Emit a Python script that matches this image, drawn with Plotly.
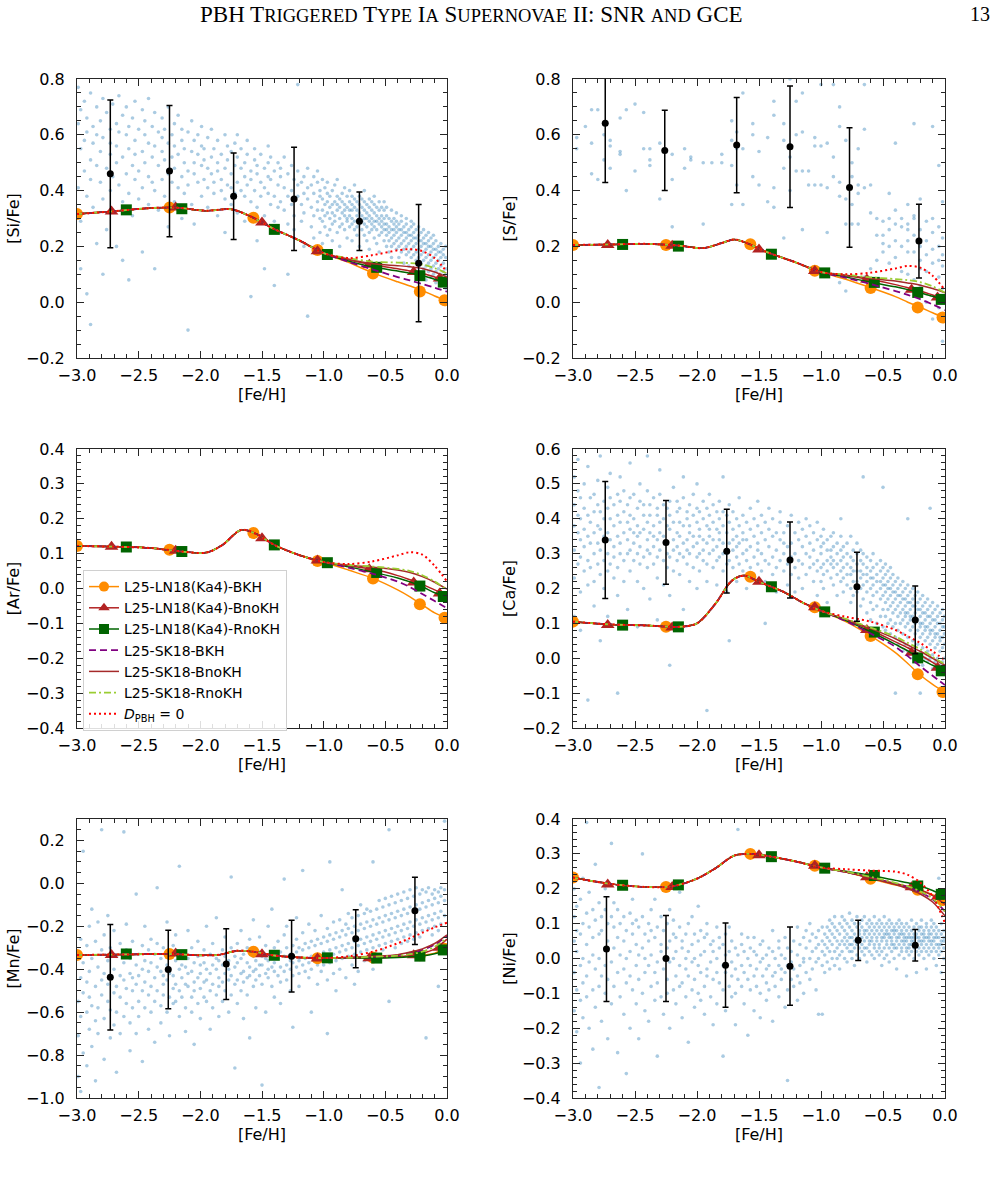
import plotly.graph_objects as go

W, H = 998, 1181

# ---------------- shared model definitions ----------------
MODEL_NAMES = ["L25-LN18(Ka4)-BKH", "L25-LN18(Ka4)-BnoKH", "L25-LN18(Ka4)-RnoKH",
               "L25-SK18-BKH", "L25-SK18-BnoKH", "L25-SK18-RnoKH",
               "<i>D</i><sub>PBH</sub> = 0"]
MODEL_COLORS = ["darkorange", "firebrick", "darkgreen", "purple", "brown", "yellowgreen", "red"]
MODEL_DASH = ["solid", "solid", "solid", "7px,4px", "solid", "7px,3px,2px,3px", "2px,3px"]
MODEL_WIDTH = [1.5, 1.5, 1.5, 1.8, 1.5, 1.8, 2.0]
MODEL_SYMBOL = ["circle", "triangle-up", "square", None, None, None, None]
MODEL_MSIZE = [12, 12, 11, 0, 0, 0, 0]

TAIL_X = [-1.0, -0.8, -0.6, -0.4, -0.3, -0.2, -0.1, 0.0]
MK_X = [[-3.0, -2.25, -1.57, -1.05, -0.6, -0.22, -0.02],
        [-2.72, -2.2, -1.5, -1.05, -0.63, -0.27, -0.06],
        [-2.6, -2.15, -1.4, -0.97, -0.57, -0.22, -0.03]]

# ---------------- [Si/Fe] ----------------
SI_BASE_X = [-3.0, -2.7, -2.45, -2.2, -1.95, -1.75, -1.6, -1.4, -1.2]
SI_BASE_Y = [0.316, 0.326, 0.336, 0.339, 0.328, 0.333, 0.309, 0.262, 0.222]
SI_TAILS = [[0.176, 0.143, 0.105, 0.073, 0.058, 0.042, 0.022, 0.005],
            [0.176, 0.152, 0.134, 0.120, 0.112, 0.104, 0.090, 0.076],
            [0.176, 0.148, 0.126, 0.112, 0.104, 0.096, 0.082, 0.068],
            [0.176, 0.145, 0.117, 0.090, 0.078, 0.065, 0.052, 0.038],
            [0.176, 0.155, 0.138, 0.131, 0.127, 0.121, 0.108, 0.090],
            [0.176, 0.158, 0.145, 0.142, 0.140, 0.135, 0.122, 0.103],
            [0.176, 0.158, 0.169, 0.186, 0.190, 0.183, 0.158, 0.108]]
SI_MK = [[0.316, 0.339, 0.303, 0.187, 0.103, 0.038, 0.007],
         [0.325, 0.339, 0.286, 0.183, 0.134, 0.108, 0.085],
         [0.331, 0.335, 0.261, 0.171, 0.125, 0.095, 0.072]]
SI_BIN_X = [-2.73, -2.25, -1.73, -1.24, -0.71, -0.23]
SI_BIN_Y = [0.46, 0.47, 0.38, 0.37, 0.29, 0.14]
SI_BIN_ERR = [0.265, 0.235, 0.155, 0.185, 0.105, 0.21]
SI_OBS = [
    (-2.99, [0.64, 0.41, 0.77]), (-2.97, [0.55, 0.29, 0.69, 0.12]), (-2.94, [0.72, 0.47, 0.58]),
    (-2.92, [0.38, 0.61, 0.03, 0.66]), (-2.89, [0.51, 0.75, 0.44, -0.08]), (-2.87, [0.63, 0.34, 0.57]),
    (-2.84, [0.7, 0.49, 0.21, 0.6]), (-2.81, [0.43, 0.65, 0.54]), (-2.79, [0.59, 0.37, 0.73, 0.1]),
    (-2.76, [0.48, 0.68, 0.26]), (-2.73, [0.62, 0.4, 0.53, 0.57]), (-2.71, [0.71, 0.45, 0.33]),
    (-2.68, [0.56, 0.64, 0.2, 0.5]), (-2.66, [0.42, 0.74, 0.61]), (-2.63, [0.52, 0.36, 0.67, 0.15]),
    (-2.6, [0.6, 0.46, 0.7]), (-2.58, [0.39, 0.55, 0.63, 0.08]), (-2.55, [0.66, 0.49, 0.31]),
    (-2.53, [0.58, 0.44, 0.72, 0.53]), (-2.5, [0.47, 0.62, 0.37]), (-2.47, [0.69, 0.54, 0.41, 0.18]),
    (-2.45, [0.6, 0.5, 0.65]), (-2.42, [0.45, 0.57, 0.35, 0.73]), (-2.39, [0.63, 0.52, 0.43]),
    (-2.37, [0.56, 0.4, 0.68, 0.12]), (-2.34, [0.49, 0.61, 0.33]), (-2.31, [0.66, 0.54, 0.44, 0.59]),
    (-2.29, [0.51, 0.38, 0.62]), (-2.26, [0.57, 0.46, 0.7, 0.27]), (-2.23, [0.43, 0.6, 0.52]),
    (-2.21, [0.64, 0.48, 0.36, 0.56]), (-2.18, [0.53, 0.41, 0.67]), (-2.15, [0.58, 0.45, 0.3, 0.62]),
    (-2.13, [0.5, 0.39, 0.55]), (-2.1, [0.61, 0.47, 0.42, -0.1]), (-2.07, [0.54, 0.35, 0.65]),
    (-2.05, [0.46, 0.58, 0.5, 0.28]), (-2.02, [0.6, 0.43, 0.53]), (-1.99, [0.49, 0.38, 0.63, 0.56]),
    (-1.97, [0.55, 0.44, 0.51]), (-1.94, [0.41, 0.59, 0.34, 0.48]), (-1.91, [0.52, 0.46, 0.62]),
    (-1.89, [0.39, 0.55, 0.43]), (-1.86, [0.58, 0.47, 0.31, 0.5]), (-1.83, [0.44, 0.53, 0.4]),
    (-1.8, [0.6, 0.48, 0.37, 0.25]), (-1.78, [0.51, 0.42, 0.56]), (-1.75, [0.46, 0.35, 0.54, 0.41]),
    (-1.72, [0.57, 0.49, 0.39]), (-1.7, [0.43, 0.52, 0.32, 0.6]), (-1.67, [0.48, 0.4, 0.55]),
    (-1.64, [0.38, 0.5, 0.45, 0.29]), (-1.62, [0.53, 0.42, 0.58]), (-1.59, [0.47, 0.36, 0.44, 0.02]),
    (-1.56, [0.51, 0.4, 0.55]), (-1.54, [0.34, 0.46, 0.49, 0.22]), (-1.51, [0.43, 0.53, 0.38]),
    (-1.48, [0.48, 0.41, 0.31, 0.12]), (-1.45, [0.39, 0.5, 0.45, 0.56]), (-1.43, [0.44, 0.35, 0.52]),
    (-1.4, [0.47, 0.38, 0.29, 0.06]), (-1.37, [0.42, 0.5, 0.34]), (-1.35, [0.36, 0.45, 0.48, 0.25]),
    (-1.32, [0.41, 0.33, 0.52]), (-1.29, [0.46, 0.38, 0.28, 0.1]), (-1.26, [0.4, 0.49, 0.35]),
    (-1.24, [0.44, 0.31, 0.37, 0.26]), (-1.21, [0.38, 0.47, 0.42, 0.78]), (-1.18, [0.35, 0.43, 0.29]),
    (-1.16, [0.45, 0.39, 0.32, 0.2]), (-1.13, [0.37, 0.48, 0.41, -0.05]), (-1.1, [0.42, 0.34, 0.27]),
    (-1.08, [0.39, 0.45, 0.31, 0.23]), (-1.05, [0.36, 0.43, 0.33, 0.47]), (-1.03, [0.4, 0.3, 0.38, 0.25]),
    (-1.01, [0.37, 0.33, 0.29, 0.44, 0.21]), (-0.99, [0.35, 0.41, 0.27, 0.31]),
    (-0.97, [0.39, 0.32, 0.24, 0.36, 0.43]), (-0.95, [0.34, 0.3, 0.38, 0.26]),
    (-0.93, [0.4, 0.35, 0.28, 0.32, 0.22]), (-0.91, [0.36, 0.31, 0.42, 0.29]),
    (-0.89, [0.33, 0.38, 0.25, 0.35, 0.44]), (-0.87, [0.37, 0.3, 0.34, 0.27, 0.2]),
    (-0.85, [0.32, 0.39, 0.28, 0.36]), (-0.83, [0.35, 0.31, 0.41, 0.26, 0.33]),
    (-0.81, [0.38, 0.29, 0.34, 0.23, 0.3]), (-0.79, [0.33, 0.36, 0.27, 0.4, 0.31]),
    (-0.77, [0.3, 0.35, 0.28, 0.38, 0.22, 0.33]), (-0.75, [0.34, 0.29, 0.37, 0.26, 0.42]),
    (-0.73, [0.31, 0.36, 0.27, 0.33, 0.24]), (-0.71, [0.35, 0.3, 0.38, 0.28, 0.2, 0.32]),
    (-0.69, [0.29, 0.34, 0.26, 0.37, 0.31]), (-0.67, [0.33, 0.28, 0.36, 0.24, 0.4, 0.3]),
    (-0.65, [0.3, 0.35, 0.27, 0.32, 0.22]), (-0.63, [0.34, 0.29, 0.25, 0.37, 0.31, 0.19]),
    (-0.61, [0.28, 0.33, 0.3, 0.26, 0.36]), (-0.59, [0.32, 0.27, 0.35, 0.23, 0.29, 0.38]),
    (-0.57, [0.29, 0.34, 0.26, 0.31, 0.21]), (-0.55, [0.33, 0.28, 0.24, 0.36, 0.3, 0.18]),
    (-0.53, [0.27, 0.31, 0.25, 0.34, 0.29]), (-0.51, [0.3, 0.26, 0.33, 0.22, 0.28, 0.36]),
    (-0.49, [0.28, 0.24, 0.31, 0.2, 0.26, 0.34]), (-0.47, [0.25, 0.3, 0.22, 0.27, 0.18]),
    (-0.45, [0.29, 0.23, 0.26, 0.33, 0.2, 0.16]), (-0.43, [0.24, 0.28, 0.21, 0.3, 0.26]),
    (-0.41, [0.27, 0.22, 0.25, 0.19, 0.32, 0.29]), (-0.39, [0.23, 0.28, 0.2, 0.26, 0.16]),
    (-0.37, [0.26, 0.21, 0.29, 0.24, 0.18, 0.31]), (-0.35, [0.22, 0.27, 0.19, 0.25, 0.14]),
    (-0.33, [0.25, 0.2, 0.28, 0.23, 0.17, 0.3]), (-0.31, [0.21, 0.26, 0.18, 0.24, 0.13]),
    (-0.29, [0.24, 0.19, 0.27, 0.22, 0.16, 0.29]), (-0.27, [0.2, 0.25, 0.17, 0.23, 0.12, 0.28]),
    (-0.25, [0.23, 0.18, 0.26, 0.21, 0.15, 0.1]), (-0.23, [0.19, 0.24, 0.16, 0.22, 0.27, 0.13]),
    (-0.21, [0.22, 0.17, 0.25, 0.2, 0.14, 0.09]), (-0.19, [0.18, 0.23, 0.15, 0.21, 0.26, 0.12]),
    (-0.17, [0.21, 0.16, 0.24, 0.19, 0.13, 0.08]), (-0.15, [0.17, 0.22, 0.14, 0.2, 0.25, 0.11]),
    (-0.13, [0.2, 0.15, 0.23, 0.18, 0.12, 0.09]), (-0.11, [0.16, 0.21, 0.13, 0.19, 0.24, 0.1]),
    (-0.09, [0.19, 0.14, 0.22, 0.17, 0.11, 0.07]), (-0.07, [0.15, 0.2, 0.12, 0.18, 0.09]),
    (-0.05, [0.18, 0.13, 0.21, 0.16, 0.1, 0.06]), (-0.03, [0.14, 0.19, 0.11, 0.17, 0.08]),
    (-0.01, [0.16, 0.12, 0.2, 0.1, 0.05])]

# ---------------- [S/Fe] ----------------
S_BASE_X = [-3.0, -2.7, -2.4, -2.15, -1.95, -1.8, -1.7, -1.6, -1.45, -1.2]
S_BASE_Y = [0.205, 0.207, 0.209, 0.203, 0.194, 0.212, 0.225, 0.212, 0.182, 0.142]
S_TAILS = [[0.108, 0.082, 0.052, 0.020, 0.000, -0.018, -0.038, -0.057],
           [0.108, 0.095, 0.081, 0.063, 0.052, 0.040, 0.026, 0.012],
           [0.108, 0.090, 0.072, 0.055, 0.045, 0.034, 0.021, 0.008],
           [0.108, 0.088, 0.065, 0.040, 0.026, 0.011, -0.008, -0.029],
           [0.108, 0.097, 0.085, 0.076, 0.069, 0.061, 0.049, 0.034],
           [0.108, 0.099, 0.089, 0.083, 0.079, 0.072, 0.057, 0.034],
           [0.108, 0.100, 0.106, 0.121, 0.130, 0.124, 0.095, 0.043]]
S_MK = [[0.205, 0.205, 0.208, 0.113, 0.051, -0.019, -0.055],
        [0.205, 0.202, 0.189, 0.112, 0.081, 0.045, 0.017],
        [0.207, 0.201, 0.172, 0.105, 0.071, 0.035, 0.010]]
S_BIN_X = [-2.74, -2.26, -1.68, -1.25, -0.77, -0.21]
S_BIN_Y = [0.641, 0.544, 0.563, 0.557, 0.411, 0.219]
S_BIN_ERR = [0.212, 0.144, 0.171, 0.218, 0.214, 0.132]
S_OBS = [(-2.97, [0.59, 0.55]), (-2.9, [0.63]), (-2.85, [0.69, 0.46, 0.57]), (-2.8, [0.69, 0.44]),
         (-2.75, [0.6, 0.51]), (-2.7, [0.58, 0.48, 0.56]), (-2.62, [0.53, 0.66, 0.54]),
         (-2.57, [0.69, 0.4]), (-2.5, [0.71, 0.47]), (-2.43, [0.68, 0.55]),
         (-2.38, [0.55, 0.49, 0.51]), (-2.3, [0.57, 0.37]), (-2.2, [0.44, 0.53, 0.27]),
         (-2.1, [0.48, 0.55]), (-2.05, [0.52, 0.51]), (-1.95, [0.5, 0.28]), (-1.88, [0.5]),
         (-1.8, [0.5, 0.53]), (-1.72, [0.65, 0.58, 0.49, 0.35]), (-1.68, [0.61, 0.55, 0.42]),
         (-1.63, [0.75, 0.55, 0.35]), (-1.55, [0.64, 0.45, 0.6]), (-1.5, [0.54, 0.42]),
         (-1.43, [0.36, 0.59]), (-1.38, [0.72, 0.67, 0.41, 0.34]), (-1.3, [0.58, 0.48, 0.23, 0.64]),
         (-1.25, [0.8, 0.52, 0.4]), (-1.2, [0.72, 0.6, 0.47]), (-1.15, [0.75, 0.61, 0.47, 0.26]),
         (-1.1, [0.47, 0.42]), (-1.05, [0.56, 0.42, 0.59]), (-1.0, [0.56, 0.78, 0.42]),
         (-0.95, [0.57, 0.41, 0.25]), (-0.9, [0.78, 0.52, 0.45, 0.1]),
         (-0.85, [0.7, 0.63, 0.43, 0.38, 0.07]), (-0.8, [0.58, 0.37, 0.28, 0.09, 0.04]),
         (-0.75, [0.5, 0.45, 0.35, 0.28]), (-0.7, [0.55, 0.42, 0.39, 0.28]),
         (-0.65, [0.62, 0.78, 0.41, 0.09]), (-0.6, [0.42, 0.32, 0.12]), (-0.55, [0.3, 0.24, 0.15]),
         (-0.5, [0.24, 0.18, 0.29, 0.21]), (-0.45, [0.39, 0.3, 0.26, 0.2, 0.14]),
         (-0.4, [0.33, 0.28, 0.22, 0.16, 0.57]), (-0.35, [0.3, 0.27, 0.2, 0.11]),
         (-0.3, [0.35, 0.28, 0.22, 0.26, 0.18, 0.1]), (-0.25, [0.31, 0.24, 0.18, 0.64, 0.08, 0.3]),
         (-0.2, [0.37, 0.26, 0.2, 0.15, 0.12, 0.06]), (-0.15, [0.29, 0.22, 0.17, 0.11, 0.0]),
         (-0.1, [0.3, 0.25, 0.19, 0.14, 0.63, -0.06]), (-0.05, [0.27, 0.2, 0.15, 0.09, 0.49, -0.02]),
         (-0.02, [0.36, 0.23, 0.17, 0.13, -0.14, 0.05])]

# ---------------- [Ar/Fe] ----------------
AR_BASE_X = [-3.0, -2.7, -2.4, -2.15, -1.95, -1.82, -1.67, -1.55, -1.4, -1.2]
AR_BASE_Y = [0.122, 0.120, 0.116, 0.106, 0.103, 0.125, 0.168, 0.157, 0.125, 0.096]
AR_TAILS = [[0.076, 0.053, 0.029, -0.004, -0.024, -0.047, -0.070, -0.085],
            [0.076, 0.065, 0.055, 0.037, 0.025, 0.012, -0.004, -0.020],
            [0.076, 0.062, 0.047, 0.030, 0.019, 0.005, -0.012, -0.025],
            [0.076, 0.060, 0.042, 0.020, 0.004, -0.016, -0.036, -0.057],
            [0.076, 0.067, 0.061, 0.053, 0.046, 0.034, 0.018, -0.002],
            [0.076, 0.068, 0.063, 0.056, 0.050, 0.038, 0.020, -0.004],
            [0.076, 0.070, 0.078, 0.095, 0.104, 0.097, 0.065, 0.020]]
AR_MK = [[0.122, 0.111, 0.159, 0.079, 0.029, -0.045, -0.084],
         [0.120, 0.108, 0.144, 0.080, 0.055, 0.017, -0.014],
         [0.119, 0.106, 0.125, 0.074, 0.046, 0.007, -0.023]]

# ---------------- [Ca/Fe] ----------------
CA_BASE_X = [-3.0, -2.7, -2.4, -2.15, -2.0, -1.85, -1.72, -1.62, -1.5, -1.3, -1.15]
CA_BASE_Y = [0.105, 0.097, 0.094, 0.090, 0.100, 0.157, 0.222, 0.237, 0.219, 0.190, 0.160]
CA_TAILS = [[0.136, 0.105, 0.064, 0.016, -0.015, -0.048, -0.075, -0.098],
            [0.136, 0.110, 0.081, 0.047, 0.030, 0.010, -0.012, -0.035],
            [0.136, 0.108, 0.076, 0.040, 0.021, -0.002, -0.020, -0.037],
            [0.136, 0.107, 0.071, 0.033, 0.006, -0.023, -0.050, -0.077],
            [0.136, 0.112, 0.085, 0.056, 0.038, 0.020, 0.000, -0.020],
            [0.136, 0.113, 0.088, 0.062, 0.044, 0.026, 0.004, -0.018],
            [0.136, 0.119, 0.105, 0.081, 0.063, 0.044, 0.020, -0.006]]
CA_MK = [[0.105, 0.090, 0.234, 0.146, 0.064, -0.046, -0.097],
         [0.095, 0.088, 0.219, 0.146, 0.081, 0.016, -0.027],
         [0.095, 0.090, 0.205, 0.133, 0.075, 0.001, -0.036]]
CA_BIN_X = [-2.74, -2.25, -1.76, -1.25, -0.71, -0.24]
CA_BIN_Y = [0.339, 0.332, 0.307, 0.282, 0.205, 0.110]
CA_BIN_ERR = [0.168, 0.120, 0.120, 0.109, 0.099, 0.097]
CA_OBS = [
    (-2.99, [0.44, 0.31, 0.52, 0.23, 0.38, 0.12]), (-2.96, [0.36, 0.48, 0.27, 0.41, 0.57]),
    (-2.94, [0.29, 0.4, 0.34, 0.19, 0.46, 0.08]), (-2.91, [0.5, 0.37, 0.25, 0.43, 0.32]),
    (-2.88, [0.41, 0.28, 0.35, 0.55, 0.21, -0.12]), (-2.86, [0.33, 0.46, 0.39, 0.26]),
    (-2.83, [0.47, 0.3, 0.36, 0.22, 0.42, 0.15]), (-2.8, [0.38, 0.51, 0.27, 0.44, 0.33]),
    (-2.78, [0.31, 0.42, 0.24, 0.37, 0.58, 0.05]), (-2.75, [0.45, 0.35, 0.28, 0.4, 0.2]),
    (-2.72, [0.36, 0.49, 0.3, 0.43, 0.25, 0.12]), (-2.7, [0.4, 0.27, 0.34, 0.53, 0.46]),
    (-2.67, [0.32, 0.44, 0.38, 0.23, 0.29]), (-2.64, [0.47, 0.35, 0.41, 0.26, 0.18, -0.1]),
    (-2.62, [0.3, 0.39, 0.45, 0.33, 0.52]), (-2.59, [0.42, 0.28, 0.36, 0.48, 0.22]),
    (-2.56, [0.34, 0.44, 0.3, 0.39, 0.14]), (-2.54, [0.46, 0.37, 0.25, 0.41, 0.31, 0.56]),
    (-2.51, [0.33, 0.4, 0.28, 0.47, 0.36]), (-2.48, [0.43, 0.3, 0.38, 0.22, 0.35, 0.09]),
    (-2.46, [0.36, 0.45, 0.32, 0.27, 0.5]), (-2.43, [0.29, 0.41, 0.37, 0.44, 0.2]),
    (-2.4, [0.39, 0.34, 0.48, 0.26, 0.31, 0.58]), (-2.38, [0.44, 0.3, 0.36, 0.41, 0.17]),
    (-2.35, [0.32, 0.38, 0.27, 0.46, 0.35]), (-2.32, [0.41, 0.29, 0.43, 0.34, 0.23, 0.11]),
    (-2.3, [0.36, 0.47, 0.31, 0.39, 0.54]), (-2.27, [0.28, 0.4, 0.35, 0.44, 0.21]),
    (-2.24, [0.43, 0.33, 0.38, 0.26, 0.3]), (-2.22, [0.37, 0.45, 0.29, 0.41, 0.18, -0.02]),
    (-2.19, [0.31, 0.39, 0.34, 0.49, 0.25]), (-2.16, [0.42, 0.28, 0.36, 0.32, 0.45]),
    (-2.14, [0.35, 0.43, 0.3, 0.24, 0.39]), (-2.11, [0.29, 0.38, 0.46, 0.33, 0.52, 0.14]),
    (-2.08, [0.4, 0.34, 0.27, 0.42, 0.31]), (-2.06, [0.36, 0.44, 0.3, 0.22, 0.38]),
    (-2.03, [0.32, 0.41, 0.35, 0.47, 0.26]), (-2.0, [0.39, 0.29, 0.43, 0.33, 0.2, 0.5]),
    (-1.98, [0.35, 0.42, 0.3, 0.37, 0.25]), (-1.95, [0.4, 0.31, 0.45, 0.34, 0.28]),
    (-1.92, [0.33, 0.38, 0.27, 0.43, 0.22, -0.15]), (-1.9, [0.41, 0.35, 0.3, 0.37, 0.47]),
    (-1.87, [0.31, 0.39, 0.26, 0.44, 0.34]), (-1.84, [0.37, 0.32, 0.42, 0.28, 0.21]),
    (-1.82, [0.4, 0.34, 0.29, 0.45, 0.36]), (-1.79, [0.33, 0.38, 0.25, 0.42, 0.3, 0.52]),
    (-1.76, [0.36, 0.3, 0.41, 0.27, 0.19]), (-1.74, [0.39, 0.33, 0.28, 0.44, 0.05]),
    (-1.71, [0.31, 0.37, 0.42, 0.26, 0.34]), (-1.68, [0.35, 0.29, 0.4, 0.32, 0.22]),
    (-1.66, [0.38, 0.33, 0.27, 0.46]), (-1.63, [0.3, 0.36, 0.41, 0.25, 0.34]),
    (-1.6, [0.34, 0.28, 0.39, 0.31, 0.2]), (-1.57, [0.37, 0.32, 0.43, 0.26]),
    (-1.54, [0.29, 0.35, 0.4, 0.24]), (-1.51, [0.33, 0.38, 0.27, 0.31, 0.45]),
    (-1.48, [0.36, 0.3, 0.25, 0.41]), (-1.45, [0.28, 0.34, 0.39, 0.22, 0.1]),
    (-1.42, [0.32, 0.37, 0.27, 0.43]), (-1.39, [0.35, 0.29, 0.4, 0.24]),
    (-1.36, [0.31, 0.26, 0.36, 0.19]), (-1.33, [0.34, 0.39, 0.28, 0.42]),
    (-1.3, [0.3, 0.36, 0.25, 0.33]), (-1.27, [0.27, 0.38, 0.32, 0.21]),
    (-1.24, [0.33, 0.29, 0.41, 0.24]), (-1.21, [0.36, 0.3, 0.26, 0.19]),
    (-1.18, [0.28, 0.34, 0.39, 0.23]), (-1.15, [0.32, 0.27, 0.37, 0.2]),
    (-1.12, [0.35, 0.3, 0.24, 0.4]), (-1.09, [0.29, 0.33, 0.26, 0.38]),
    (-1.06, [0.31, 0.36, 0.22, 0.27]), (-1.03, [0.34, 0.28, 0.25, 0.39, 0.18]),
    (-1.0, [0.3, 0.26, 0.35, 0.22, 0.32]), (-0.98, [0.27, 0.33, 0.24, 0.37, 0.2]),
    (-0.95, [0.31, 0.25, 0.28, 0.34, 0.16]), (-0.92, [0.29, 0.35, 0.23, 0.27, 0.31]),
    (-0.9, [0.26, 0.32, 0.21, 0.36, 0.28]), (-0.87, [0.3, 0.24, 0.27, 0.33, 0.18]),
    (-0.84, [0.25, 0.31, 0.22, 0.35, 0.28, 0.4]), (-0.82, [0.29, 0.23, 0.26, 0.32, 0.19]),
    (-0.79, [0.27, 0.33, 0.21, 0.24, 0.3]), (-0.76, [0.24, 0.29, 0.2, 0.35, 0.26, 0.16]),
    (-0.74, [0.28, 0.22, 0.31, 0.25, 0.18]), (-0.71, [0.25, 0.3, 0.19, 0.27, 0.22, 0.33]),
    (-0.68, [0.23, 0.28, 0.2, 0.25, 0.15, 0.31]), (-0.66, [0.27, 0.21, 0.24, 0.3, 0.17, 0.52]),
    (-0.63, [0.22, 0.26, 0.19, 0.29, 0.24, 0.13]), (-0.6, [0.25, 0.2, 0.23, 0.28, 0.16, 0.11]),
    (-0.58, [0.21, 0.26, 0.18, 0.23, 0.3, 0.14]), (-0.55, [0.24, 0.19, 0.22, 0.27, 0.15, 0.1]),
    (-0.52, [0.2, 0.25, 0.17, 0.22, 0.12, 0.28]), (-0.5, [0.23, 0.18, 0.21, 0.26, 0.14, 0.09, 0.49]),
    (-0.48, [0.19, 0.24, 0.16, 0.21, 0.12, 0.27, 0.08]), (-0.46, [0.22, 0.17, 0.2, 0.14, 0.25, 0.1]),
    (-0.44, [0.18, 0.23, 0.15, 0.2, 0.11, 0.07, 0.26]), (-0.42, [0.21, 0.16, 0.19, 0.13, 0.24, 0.09]),
    (-0.4, [0.17, 0.22, 0.14, 0.19, 0.1, 0.06, -0.1]), (-0.38, [0.2, 0.15, 0.18, 0.12, 0.23, 0.08, 0.04]),
    (-0.36, [0.16, 0.21, 0.13, 0.18, 0.1, 0.05]), (-0.34, [0.19, 0.14, 0.17, 0.11, 0.22, 0.07, 0.02]),
    (-0.32, [0.15, 0.2, 0.12, 0.17, 0.09, 0.04, 0.13]), (-0.3, [0.18, 0.13, 0.16, 0.1, 0.21, 0.06, 0.02, 0.4]),
    (-0.28, [0.14, 0.19, 0.11, 0.16, 0.08, 0.03, 0.12]), (-0.26, [0.17, 0.12, 0.15, 0.09, 0.2, 0.05, 0.0]),
    (-0.24, [0.13, 0.18, 0.1, 0.15, 0.07, 0.02, 0.11]), (-0.22, [0.16, 0.11, 0.14, 0.08, 0.19, 0.04, -0.01]),
    (-0.2, [0.12, 0.17, 0.09, 0.14, 0.06, 0.01, 0.1, -0.1]), (-0.18, [0.15, 0.1, 0.13, 0.07, 0.18, 0.03, -0.02]),
    (-0.16, [0.11, 0.16, 0.08, 0.13, 0.05, 0.0, 0.09]), (-0.14, [0.14, 0.09, 0.12, 0.06, 0.17, 0.02, -0.01]),
    (-0.12, [0.1, 0.15, 0.07, 0.12, 0.04, 0.0, 0.08, 0.43]), (-0.1, [0.13, 0.08, 0.11, 0.05, 0.16, 0.01, -0.03]),
    (-0.08, [0.09, 0.14, 0.06, 0.11, 0.03, -0.01, 0.07]), (-0.06, [0.12, 0.07, 0.1, 0.04, 0.15, 0.0, -0.04]),
    (-0.04, [0.08, 0.13, 0.05, 0.1, 0.02, -0.02, 0.06]), (-0.02, [0.11, 0.06, 0.09, 0.03, 0.14, -0.01]),
    (-0.005, [0.07, 0.12, 0.04, 0.0, 0.09])]

# ---------------- [Mn/Fe] ----------------
MN_BASE_X = [-3.0, -2.6, -2.25, -2.0, -1.85, -1.7, -1.55, -1.4, -1.2]
MN_BASE_Y = [-0.334, -0.331, -0.329, -0.335, -0.333, -0.314, -0.320, -0.336, -0.345]
MN_TAILS = [[-0.348, -0.347, -0.345, -0.342, -0.339, -0.335, -0.325, -0.300],
            [-0.348, -0.347, -0.348, -0.342, -0.336, -0.326, -0.305, -0.260],
            [-0.348, -0.347, -0.348, -0.345, -0.342, -0.338, -0.328, -0.310],
            [-0.348, -0.346, -0.342, -0.335, -0.325, -0.310, -0.285, -0.245],
            [-0.348, -0.345, -0.340, -0.332, -0.320, -0.305, -0.280, -0.240],
            [-0.348, -0.346, -0.342, -0.337, -0.330, -0.318, -0.295, -0.255],
            [-0.348, -0.340, -0.318, -0.279, -0.255, -0.230, -0.205, -0.183]]
MN_MK = [[-0.334, -0.329, -0.318, -0.349, -0.345, -0.335, -0.305],
         [-0.334, -0.327, -0.330, -0.350, -0.349, -0.335, -0.300],
         [-0.329, -0.332, -0.335, -0.347, -0.348, -0.339, -0.310]]
MN_BIN_X = [-2.73, -2.26, -1.79, -1.26, -0.74, -0.26]
MN_BIN_Y = [-0.437, -0.401, -0.376, -0.339, -0.258, -0.128]
MN_BIN_ERR = [0.246, 0.183, 0.165, 0.167, 0.135, 0.157]
MN_OBS = [
    (-2.99, [-0.32, -0.55, -0.71, -0.9]), (-2.97, [-0.44, -0.26, -0.62, -0.97]),
    (-2.95, [-0.51, -0.37, -0.79, 0.15]), (-2.92, [-0.29, -0.6, -0.46, -0.85]),
    (-2.9, [-0.41, -0.68, -0.2, -0.53]), (-2.88, [-0.57, -0.35, -0.76, -0.12]),
    (-2.85, [-0.48, -0.27, -0.64, -0.92]), (-2.83, [-0.39, -0.58, -0.18, -0.7]),
    (-2.8, [-0.52, -0.31, -0.45, 0.25]), (-2.78, [-0.63, -0.42, -0.24, -0.82]),
    (-2.75, [-0.36, -0.55, -0.47, -0.15]), (-2.73, [-0.59, -0.3, -0.72, -0.44]),
    (-2.7, [-0.4, -0.51, -0.22, -0.66]), (-2.68, [-0.34, -0.6, -0.48, -0.88]),
    (-2.65, [-0.53, -0.28, -0.43, -0.7]), (-2.62, [-0.45, -0.37, -0.62, 0.24]),
    (-2.6, [-0.31, -0.56, -0.49, -0.19]), (-2.57, [-0.42, -0.65, -0.35, -0.78]),
    (-2.55, [-0.5, -0.27, -0.58, -0.44]), (-2.52, [-0.38, -0.47, -0.7, -0.05]),
    (-2.5, [-0.55, -0.33, -0.43, -0.62]), (-2.47, [-0.29, -0.5, -0.4, -0.83]),
    (-2.45, [-0.46, -0.36, -0.58, -0.2]), (-2.42, [-0.52, -0.41, -0.31, -0.68]),
    (-2.4, [-0.37, -0.48, -0.6, -0.26]), (-2.37, [-0.44, -0.33, -0.55, -0.74]),
    (-2.35, [-0.5, -0.39, -0.28, -0.02]), (-2.32, [-0.41, -0.57, -0.35, -0.65]),
    (-2.3, [-0.47, -0.3, -0.52, -0.43]), (-2.27, [-0.38, -0.6, -0.45, -0.18]),
    (-2.25, [-0.53, -0.34, -0.42, -0.71]), (-2.22, [-0.43, -0.49, -0.29, -0.56]),
    (-2.2, [-0.36, -0.55, -0.47, -0.24]), (-2.17, [-0.5, -0.4, -0.62, 0.08]),
    (-2.15, [-0.44, -0.32, -0.53, -0.38]), (-2.12, [-0.39, -0.58, -0.47, -0.69]),
    (-2.1, [-0.48, -0.35, -0.42, -0.22]), (-2.07, [-0.41, -0.53, -0.3, -0.6]),
    (-2.05, [-0.46, -0.37, -0.5, -0.75]), (-2.02, [-0.34, -0.44, -0.56, -0.27]),
    (-2.0, [-0.42, -0.49, -0.38, -0.63]), (-1.97, [-0.37, -0.46, -0.31, -0.53]),
    (-1.95, [-0.45, -0.4, -0.55, -0.2]), (-1.92, [-0.33, -0.42, -0.5, -0.68]),
    (-1.9, [-0.47, -0.38, -0.28, -0.58]), (-1.87, [-0.4, -0.52, -0.35, -0.16]),
    (-1.85, [-0.44, -0.36, -0.48, -0.62]), (-1.82, [-0.38, -0.46, -0.31, -0.55]),
    (-1.8, [-0.42, -0.34, -0.5, -0.25]), (-1.77, [-0.36, -0.45, -0.4, -0.6]),
    (-1.75, [-0.43, -0.3, -0.52, 0.03]), (-1.72, [-0.39, -0.47, -0.34, -0.86]),
    (-1.7, [-0.45, -0.37, -0.28, -0.56]), (-1.67, [-0.35, -0.42, -0.5, -0.22]),
    (-1.65, [-0.41, -0.33, -0.46, -0.63]), (-1.62, [-0.37, -0.44, -0.3, -0.52]),
    (-1.6, [-0.43, -0.39, -0.26, -0.72]), (-1.57, [-0.34, -0.41, -0.48, -0.17]),
    (-1.55, [-0.4, -0.36, -0.45, -0.58]), (-1.52, [-0.32, -0.43, -0.38, -0.25]),
    (-1.5, [-0.38, -0.47, -0.34, -0.94]), (-1.47, [-0.42, -0.35, -0.29, -0.6]),
    (-1.45, [-0.36, -0.44, -0.4, -0.2]), (-1.42, [-0.33, -0.39, -0.48, -0.12]),
    (-1.4, [-0.41, -0.37, -0.3, -0.53]), (-1.37, [-0.35, -0.43, -0.27]),
    (-1.35, [-0.39, -0.32, -0.46, -0.56]), (-1.32, [-0.34, -0.41, -0.24, 0.02]),
    (-1.3, [-0.38, -0.3, -0.45, -0.2]), (-1.27, [-0.33, -0.4, -0.36, -0.5]),
    (-1.25, [-0.37, -0.29, -0.43, -0.67]), (-1.22, [-0.32, -0.39, -0.26, -0.16]),
    (-1.2, [-0.36, -0.42, -0.3, -0.48]), (-1.17, [-0.31, -0.38, -0.23, 0.06]),
    (-1.15, [-0.35, -0.28, -0.41]), (-1.12, [-0.3, -0.37, -0.44, -0.19]),
    (-1.1, [-0.34, -0.27, -0.4, -0.6]), (-1.07, [-0.29, -0.36, -0.22]),
    (-1.05, [-0.33, -0.38, -0.26, -0.47]), (-1.02, [-0.28, -0.35, -0.41, -0.15]),
    (-1.0, [-0.32, -0.25, -0.38]), (-0.97, [-0.27, -0.34, -0.21, -0.45, -0.7]),
    (-0.95, [-0.31, -0.24, -0.37, 0.1]), (-0.92, [-0.26, -0.33, -0.18, -0.42]),
    (-0.9, [-0.3, -0.23, -0.36, -0.5]), (-0.87, [-0.25, -0.32, -0.17, -0.4]),
    (-0.85, [-0.29, -0.22, -0.35, -0.03]), (-0.82, [-0.24, -0.31, -0.19, -0.44]),
    (-0.8, [-0.28, -0.21, -0.34, -0.14]), (-0.77, [-0.23, -0.3, -0.16, -0.38]),
    (-0.75, [-0.27, -0.2, -0.33, -0.47]), (-0.72, [-0.22, -0.29, -0.15, -0.41]),
    (-0.7, [-0.26, -0.19, -0.32, -0.1]), (-0.67, [-0.21, -0.28, -0.14, -0.36]),
    (-0.65, [-0.25, -0.18, -0.31, -0.12]), (-0.62, [-0.2, -0.27, -0.13, -0.34]),
    (-0.6, [-0.24, -0.17, -0.3, 0.1, -0.4]), (-0.57, [-0.19, -0.26, -0.12, -0.33]),
    (-0.55, [-0.23, -0.16, -0.29, -0.08]), (-0.52, [-0.18, -0.25, -0.11, -0.31]),
    (-0.5, [-0.22, -0.15, -0.28, -0.07]), (-0.47, [-0.17, -0.24, -0.1, 0.25, -0.55]),
    (-0.45, [-0.21, -0.14, -0.27, -0.06]), (-0.42, [-0.16, -0.23, -0.09, -0.3]),
    (-0.4, [-0.2, -0.13, -0.26, -0.05]), (-0.37, [-0.15, -0.22, -0.08, -0.28]),
    (-0.35, [-0.19, -0.12, -0.25, -0.04]), (-0.32, [-0.14, -0.21, -0.07, -0.27]),
    (-0.3, [-0.18, -0.11, -0.24, -0.03]), (-0.27, [-0.13, -0.2, -0.06, -0.26]),
    (-0.25, [-0.17, -0.1, -0.23, -0.02]), (-0.22, [-0.12, -0.19, -0.05, -0.25]),
    (-0.2, [-0.16, -0.09, -0.22, -0.03]), (-0.17, [-0.11, -0.18, -0.04, -0.72]),
    (-0.15, [-0.15, -0.08, -0.21, -0.02]), (-0.12, [-0.1, -0.17, -0.05, -0.24]),
    (-0.1, [-0.14, -0.07, -0.2, -0.03]), (-0.07, [-0.09, -0.16, -0.04, -0.22, -0.48]),
    (-0.05, [-0.13, -0.06, -0.19, -0.02]), (-0.02, [-0.08, -0.15, -0.03, 0.29])]

# ---------------- [Ni/Fe] ----------------
NI_BASE_X = [-3.0, -2.7, -2.4, -2.2, -2.0, -1.85, -1.7, -1.57, -1.4, -1.2]
NI_BASE_Y = [0.232, 0.214, 0.205, 0.207, 0.229, 0.259, 0.295, 0.300, 0.292, 0.278]
NI_TAILS = [[0.261, 0.248, 0.229, 0.211, 0.204, 0.195, 0.183, 0.165],
            [0.261, 0.248, 0.232, 0.215, 0.207, 0.197, 0.180, 0.155],
            [0.261, 0.250, 0.238, 0.224, 0.217, 0.208, 0.195, 0.178],
            [0.261, 0.248, 0.232, 0.214, 0.204, 0.190, 0.170, 0.135],
            [0.261, 0.248, 0.231, 0.212, 0.200, 0.185, 0.162, 0.122],
            [0.261, 0.249, 0.234, 0.217, 0.207, 0.193, 0.172, 0.135],
            [0.261, 0.256, 0.252, 0.249, 0.240, 0.218, 0.178, 0.101]]
NI_MK = [[0.232, 0.205, 0.300, 0.266, 0.229, 0.197, 0.168],
         [0.212, 0.205, 0.296, 0.266, 0.233, 0.204, 0.176],
         [0.210, 0.211, 0.292, 0.259, 0.238, 0.208, 0.184]]
NI_BIN_X = [-2.73, -2.25, -1.77, -1.25, -0.70, -0.24]
NI_BIN_Y = [0.027, 0.000, -0.019, -0.022, 0.052, 0.038]
NI_BIN_ERR = [0.150, 0.123, 0.121, 0.112, 0.058, 0.045]
NI_OBS = [
    (-2.99, [0.12, -0.04, 0.2, -0.15, 0.05]), (-2.97, [0.02, 0.15, -0.09, -0.21, 0.08]),
    (-2.94, [0.17, -0.02, 0.07, -0.12, -0.3]), (-2.92, [0.1, -0.07, 0.23, 0.0, -0.17]),
    (-2.89, [0.04, 0.13, -0.11, 0.39, -0.05]), (-2.87, [0.19, -0.01, 0.09, -0.2]),
    (-2.84, [0.06, -0.09, 0.14, -0.26, 0.01]), (-2.82, [0.11, -0.03, 0.27, -0.14]),
    (-2.79, [0.0, 0.16, -0.08, 0.07, -0.37]), (-2.77, [0.08, -0.05, 0.12, -0.18]),
    (-2.74, [0.14, -0.1, 0.03, -0.02, 0.2]), (-2.72, [-0.06, 0.1, 0.05, -0.23]),
    (-2.69, [0.12, -0.01, 0.33, -0.13]), (-2.67, [0.03, 0.09, -0.08, 0.16]),
    (-2.64, [-0.04, 0.14, 0.06, -0.27]), (-2.62, [0.1, -0.11, 0.01, 0.22]),
    (-2.59, [0.05, -0.03, 0.12, -0.16]), (-2.57, [-0.07, 0.08, 0.0, -0.33]),
    (-2.54, [0.13, 0.02, -0.05, -0.2]), (-2.52, [0.07, -0.09, 0.1, 0.17]),
    (-2.49, [-0.02, 0.04, -0.13, 0.11]), (-2.47, [0.09, -0.06, 0.01, -0.23]),
    (-2.44, [0.03, 0.12, -0.1, 0.3]), (-2.42, [-0.04, 0.07, -0.15, 0.0]),
    (-2.39, [0.1, -0.02, 0.05, -0.18]), (-2.37, [0.01, -0.08, 0.14, 0.08]),
    (-2.34, [0.06, -0.04, -0.12, 0.17]), (-2.32, [-0.01, 0.09, -0.07, -0.28]),
    (-2.29, [0.04, -0.11, 0.12, 0.02]), (-2.27, [0.08, -0.03, -0.16]),
    (-2.24, [-0.06, 0.03, 0.1, -0.1]), (-2.22, [0.05, -0.01, 0.14, -0.2]),
    (-2.19, [0.0, -0.09, 0.07, 0.11]), (-2.17, [0.06, -0.05, -0.13, 0.02]),
    (-2.14, [-0.02, 0.09, 0.19, -0.08]), (-2.12, [0.03, -0.07, 0.05, -0.17]),
    (-2.09, [0.07, -0.03, -0.11, 0.0]), (-2.07, [-0.05, 0.02, 0.1, -0.24]),
    (-2.04, [0.04, -0.09, 0.12, -0.01]), (-2.02, [0.0, -0.06, 0.07, -0.14]),
    (-1.99, [0.05, -0.02, -0.1, 0.15]), (-1.97, [-0.04, 0.08, 0.01, -0.12]),
    (-1.94, [0.02, -0.08, 0.06, -0.16]), (-1.92, [0.07, -0.03, -0.05, 0.1]),
    (-1.89, [-0.01, 0.04, -0.11]), (-1.87, [0.05, -0.06, 0.02, -0.19]),
    (-1.84, [0.0, 0.09, -0.04, -0.13]), (-1.82, [-0.07, 0.03, 0.06]),
    (-1.79, [0.04, -0.02, -0.09, -0.28]), (-1.77, [-0.04, 0.01, 0.07, -0.15]),
    (-1.74, [0.02, -0.08, 0.09]), (-1.72, [-0.01, 0.05, -0.05, -0.11]),
    (-1.69, [0.03, -0.03, -0.1, -0.19]), (-1.67, [-0.06, 0.01, 0.37]),
    (-1.64, [0.04, -0.02, -0.08, 0.07]), (-1.62, [-0.04, 0.02, -0.13]),
    (-1.59, [0.0, 0.06, -0.06, -0.22]), (-1.57, [-0.02, -0.09, 0.03]),
    (-1.54, [0.02, -0.05, 0.06, -0.15]), (-1.52, [-0.03, -0.08, 0.01]),
    (-1.49, [0.04, -0.01, -0.1, -0.17]), (-1.47, [-0.05, 0.0, 0.05]),
    (-1.44, [0.01, -0.07, -0.03, -0.12]), (-1.42, [-0.02, 0.03, -0.09]),
    (-1.39, [0.02, -0.05, 0.08, -0.18]), (-1.37, [-0.04, 0.0, -0.08]),
    (-1.34, [0.03, -0.02, -0.11, 0.05]), (-1.32, [-0.06, 0.01, -0.03]),
    (-1.29, [0.0, -0.04, 0.06, -0.14]), (-1.27, [-0.02, 0.03, -0.09, -0.35]),
    (-1.24, [0.02, -0.06, -0.01]), (-1.22, [-0.03, 0.05, -0.08]),
    (-1.19, [0.01, -0.05, 0.09, -0.12]), (-1.17, [0.04, -0.02, -0.07]),
    (-1.14, [-0.01, 0.06, 0.0, -0.1]), (-1.12, [0.03, -0.04, 0.08]),
    (-1.09, [0.05, 0.0, -0.06, 0.1]), (-1.07, [0.02, -0.03, 0.07]),
    (-1.04, [0.06, -0.01, 0.03, -0.09]), (-1.02, [0.0, 0.04, 0.08, -0.16]),
    (-0.99, [0.05, 0.02, -0.02, 0.09, -0.16]), (-0.97, [0.07, 0.01, 0.04, -0.04]),
    (-0.95, [0.03, 0.09, -0.01, 0.06]), (-0.93, [0.08, 0.02, 0.05, 0.11, -0.03]),
    (-0.91, [0.04, 0.0, 0.07, 0.1]), (-0.89, [0.06, 0.09, 0.02, -0.02, 0.12]),
    (-0.87, [0.03, 0.08, 0.05, 0.0]), (-0.85, [0.07, 0.1, 0.01, 0.04, -0.03]),
    (-0.83, [0.05, 0.02, 0.09, 0.12]), (-0.81, [0.08, 0.04, 0.0, 0.06, 0.11]),
    (-0.79, [0.03, 0.07, 0.1, -0.01, 0.05]), (-0.77, [0.06, 0.09, 0.02, 0.13, 0.04]),
    (-0.75, [0.08, 0.04, 0.11, 0.0, 0.06, 0.02]), (-0.73, [0.05, 0.1, 0.03, 0.07, -0.02]),
    (-0.71, [0.09, 0.06, 0.01, 0.12, 0.04]), (-0.69, [0.07, 0.03, 0.1, 0.05, 0.0, 0.08]),
    (-0.67, [0.04, 0.09, 0.06, 0.11, 0.02]), (-0.65, [0.08, 0.05, 0.12, 0.01, 0.07, 0.03]),
    (-0.63, [0.06, 0.1, 0.03, 0.08, -0.01]), (-0.61, [0.09, 0.04, 0.07, 0.11, 0.02, 0.05]),
    (-0.59, [0.05, 0.08, 0.01, 0.1, 0.06]), (-0.57, [0.07, 0.03, 0.09, 0.12, 0.04, 0.0]),
    (-0.55, [0.06, 0.1, 0.02, 0.08, 0.05]), (-0.53, [0.04, 0.07, 0.11, 0.01, 0.09, 0.03]),
    (-0.51, [0.08, 0.05, 0.02, 0.1, 0.06, -0.02]), (-0.49, [0.06, 0.09, 0.03, 0.07, 0.12, 0.0]),
    (-0.47, [0.04, 0.08, 0.1, 0.01, 0.05, 0.07]), (-0.45, [0.07, 0.03, 0.09, 0.06, 0.11, -0.01]),
    (-0.43, [0.05, 0.08, 0.02, 0.1, 0.04, 0.06]), (-0.41, [0.08, 0.04, 0.07, 0.0, 0.09, 0.03]),
    (-0.39, [0.06, 0.1, 0.03, 0.05, 0.08, -0.03]), (-0.37, [0.04, 0.07, 0.09, 0.01, 0.06, 0.11]),
    (-0.35, [0.07, 0.02, 0.05, 0.08, 0.03, 0.1]), (-0.33, [0.05, 0.09, 0.04, 0.06, 0.0, 0.07]),
    (-0.31, [0.08, 0.03, 0.06, 0.1, 0.02, 0.05, -0.05]), (-0.29, [0.04, 0.07, 0.09, 0.01, 0.06, 0.03]),
    (-0.27, [0.06, 0.02, 0.08, 0.05, 0.11, 0.04]), (-0.25, [0.03, 0.07, 0.05, 0.09, 0.0, 0.06]),
    (-0.23, [0.07, 0.04, 0.1, 0.02, 0.06, -0.04]), (-0.21, [0.05, 0.08, 0.03, 0.06, 0.01, 0.09]),
    (-0.19, [0.04, 0.07, 0.02, 0.09, 0.05, 0.11]), (-0.17, [0.06, 0.03, 0.08, 0.0, 0.05, 0.07]),
    (-0.15, [0.04, 0.09, 0.06, 0.02, 0.1, -0.03]), (-0.13, [0.07, 0.03, 0.05, 0.08, 0.01, 0.06]),
    (-0.11, [0.05, 0.09, 0.02, 0.07, 0.04, 0.11]), (-0.09, [0.03, 0.06, 0.08, 0.0, 0.05, 0.1]),
    (-0.07, [0.06, 0.02, 0.04, 0.09, 0.07, -0.02]), (-0.05, [0.04, 0.08, 0.03, 0.06, 0.01, 0.23]),
    (-0.03, [0.07, 0.05, 0.1, 0.02, 0.04, -0.04]), (-0.01, [0.05, 0.08, 0.03, 0.06, 0.0])]

# ---------------- panel layout (pixel boxes) ----------------
COLS = [(77, 447), (573, 945)]
ROWS = [(79, 358), (449, 728), (819, 1098)]

PANELS = [
    dict(t="[Si/Fe]", r=0, c=0, yr=[-0.2, 0.8], dt=0.2, mdt=0.05, bx=SI_BASE_X, by=SI_BASE_Y,
         tails=SI_TAILS, mk=SI_MK, obs=SI_OBS, bins=(SI_BIN_X, SI_BIN_Y, SI_BIN_ERR)),
    dict(t="[S/Fe]", r=0, c=1, yr=[-0.2, 0.8], dt=0.2, mdt=0.05, bx=S_BASE_X, by=S_BASE_Y,
         tails=S_TAILS, mk=S_MK, obs=S_OBS, bins=(S_BIN_X, S_BIN_Y, S_BIN_ERR)),
    dict(t="[Ar/Fe]", r=1, c=0, yr=[-0.4, 0.4], dt=0.1, mdt=0.02, bx=AR_BASE_X, by=AR_BASE_Y,
         tails=AR_TAILS, mk=AR_MK, obs=None, bins=None),
    dict(t="[Ca/Fe]", r=1, c=1, yr=[-0.2, 0.6], dt=0.1, mdt=0.02, bx=CA_BASE_X, by=CA_BASE_Y,
         tails=CA_TAILS, mk=CA_MK, obs=CA_OBS, bins=(CA_BIN_X, CA_BIN_Y, CA_BIN_ERR)),
    dict(t="[Mn/Fe]", r=2, c=0, yr=[-1.0, 0.3], dt=0.2, mdt=0.05, bx=MN_BASE_X, by=MN_BASE_Y,
         tails=MN_TAILS, mk=MN_MK, obs=MN_OBS, bins=(MN_BIN_X, MN_BIN_Y, MN_BIN_ERR)),
    dict(t="[Ni/Fe]", r=2, c=1, yr=[-0.4, 0.4], dt=0.1, mdt=0.02, bx=NI_BASE_X, by=NI_BASE_Y,
         tails=NI_TAILS, mk=NI_MK, obs=NI_OBS, bins=(NI_BIN_X, NI_BIN_Y, NI_BIN_ERR)),
]

FONT = "DejaVu Sans"
AXCOL = "#262626"

fig = go.Figure()
layout = dict(template="none", width=W, height=H, margin=dict(l=0, r=0, t=0, b=0, pad=0),
              paper_bgcolor="white", plot_bgcolor="white",
              font=dict(family=FONT, size=16, color="black"), showlegend=True)

for i, p in enumerate(PANELS):
    n = i + 1
    xa = "x" if n == 1 else f"x{n}"
    ya = "y" if n == 1 else f"y{n}"
    x0, x1 = COLS[p["c"]]
    y0, y1 = ROWS[p["r"]]
    common = dict(ticks="inside", ticklen=7, tickwidth=1, tickcolor=AXCOL,
                  showline=True, linecolor=AXCOL, linewidth=1, mirror="allticks",
                  showgrid=False, zeroline=False, tickformat=".1f", automargin=False,
                  tickfont=dict(family=FONT, size=16, color="black"))
    layout["xaxis" if n == 1 else f"xaxis{n}"] = dict(
        domain=[x0 / W, x1 / W], anchor=ya, range=[-3.0, 0.0], tick0=-3.0, dtick=0.5,
        ticklabelstandoff=3,
        minor=dict(ticks="inside", ticklen=4, tickcolor=AXCOL, dtick=0.1, tick0=-3.0, showgrid=False),
        title=dict(text="[Fe/H]", font=dict(family=FONT, size=16), standoff=4), **common)
    layout["yaxis" if n == 1 else f"yaxis{n}"] = dict(
        domain=[1 - y1 / H, 1 - y0 / H], anchor=xa, range=p["yr"], tick0=0.0, dtick=p["dt"],
        ticklabelstandoff=8,
        minor=dict(ticks="inside", ticklen=4, tickcolor=AXCOL, dtick=p["mdt"], tick0=0.0, showgrid=False),
        title=dict(text=p["t"], font=dict(family=FONT, size=16), standoff=2), **common)

    # observations
    if p["obs"] is not None:
        ox, oy = [], []
        for xv, ys in p["obs"]:
            for yv in ys:
                ox.append(xv)
                oy.append(yv)
        fig.add_trace(go.Scatter(x=ox, y=oy, mode="markers", xaxis=xa, yaxis=ya, showlegend=False,
                                 marker=dict(size=3.6, color="rgba(31,119,180,0.38)", line=dict(width=0)),
                                 hoverinfo="skip"))
    # models
    for m in range(7):
        lx = p["bx"] + TAIL_X
        ly = p["by"] + p["tails"][m]
        fig.add_trace(go.Scatter(x=lx, y=ly, mode="lines", xaxis=xa, yaxis=ya, showlegend=False,
                                 line=dict(color=MODEL_COLORS[m], width=MODEL_WIDTH[m],
                                           dash=MODEL_DASH[m], shape="spline", smoothing=0.9)))
        if m < 3:
            fig.add_trace(go.Scatter(x=MK_X[m], y=p["mk"][m], mode="markers", xaxis=xa, yaxis=ya,
                                     showlegend=False,
                                     marker=dict(symbol=MODEL_SYMBOL[m], size=MODEL_MSIZE[m],
                                                 color=MODEL_COLORS[m], line=dict(width=0))))
    # binned data
    if p["bins"] is not None:
        bx, by, be = p["bins"]
        fig.add_trace(go.Scatter(x=bx, y=by, mode="markers", xaxis=xa, yaxis=ya, showlegend=False,
                                 marker=dict(size=7, color="black"),
                                 error_y=dict(type="data", array=be, color="black", thickness=1.5, width=3)))

# legend entries (in the [Ar/Fe] panel)
for m in range(7):
    mode = "lines+markers" if m < 3 else "lines"
    kw = dict(marker=dict(symbol=MODEL_SYMBOL[m], size=10, color=MODEL_COLORS[m])) if m < 3 else {}
    fig.add_trace(go.Scatter(x=[None], y=[None], mode=mode, xaxis="x3", yaxis="y3", name=MODEL_NAMES[m],
                             line=dict(color=MODEL_COLORS[m], width=MODEL_WIDTH[m], dash=MODEL_DASH[m]),
                             **kw))

layout["legend"] = dict(x=83 / W, y=1 - 570 / H, xanchor="left", yanchor="top",
                        bgcolor="rgba(255,255,255,0.85)", bordercolor="#d0d0d0", borderwidth=1,
                        font=dict(family=FONT, size=14, color="black"), itemwidth=30,
                        tracegroupgap=0)

SC = "<span style='font-size:18.5px'>{}</span>"
HEADER = ("PBH T" + SC.format("RIGGERED") + " T" + SC.format("YPE") + " I" + SC.format("A") +
          " S" + SC.format("UPERNOVAE") + " II: SNR " + SC.format("AND") + " GCE")

layout["annotations"] = [
    dict(text=HEADER, x=471 / W, y=1 - 14 / H,
         xref="paper", yref="paper", showarrow=False, xanchor="center", yanchor="middle",
         font=dict(family="Liberation Serif", size=23, color="black")),
    dict(text="13", x=992 / W, y=1 - 14 / H, xref="paper", yref="paper", showarrow=False,
         xanchor="right", yanchor="middle", font=dict(family="Liberation Serif", size=20, color="black")),
]

fig.update_layout(**layout)
fig.write_html("out.html")
